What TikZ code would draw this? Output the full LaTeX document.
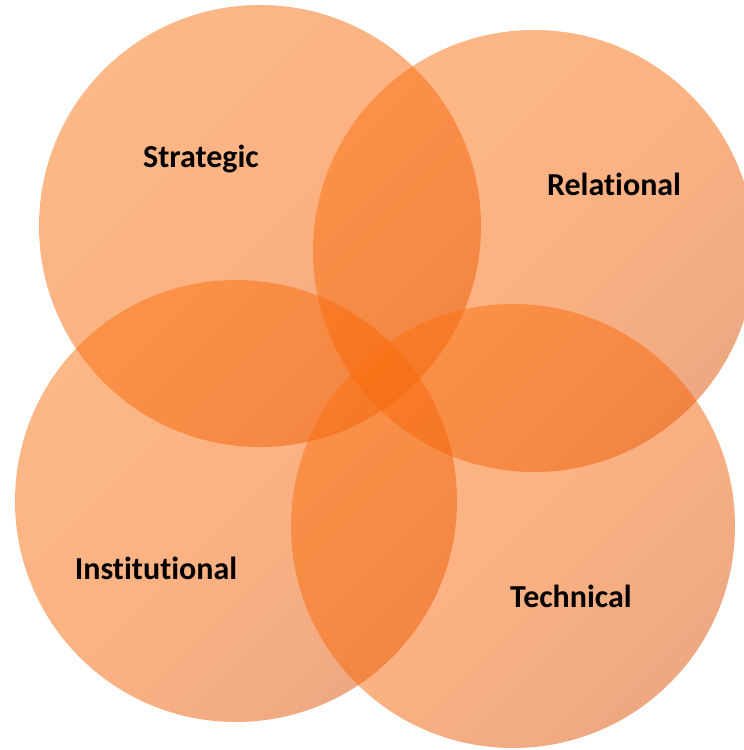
\documentclass[tikz,border=0pt]{standalone}
\usepackage{fontspec}
\setmainfont[Ligatures=NoCommon]{Carlito}
\definecolor{petaltop}{RGB}{251,113,17}
\definecolor{petalmid}{RGB}{249,101,5}
\definecolor{petalbot}{RGB}{222,82,5}
\begin{document}
\begin{tikzpicture}[x=1pt,y=-1pt,
    petal/.style={top color=petaltop,bottom color=petalbot,middle color=petalmid,shading angle=45,fill opacity=.5,draw=none},
    tag/.style={anchor=base,font=\fontsize{32}{32}\selectfont\bfseries}]
    \useasboundingbox (0,0) rectangle (744,750);
    \shade[petal] (260,226) circle [radius=221pt];
    \shade[petal] (534,251) circle [radius=221pt];
    \shade[petal] (236,501) circle [radius=221pt];
    \shade[petal] (513,526) circle [radius=222pt];
    \node[tag] (strategic) at (201,167) {Strategic};
    \node[tag] (relational) at (614,195) {Relational};
    \node[tag] (institutional) at (156,579) {Institutional};
    \node[tag] (technical) at (571,607) {Technical};
  \end{tikzpicture}
\end{document}
